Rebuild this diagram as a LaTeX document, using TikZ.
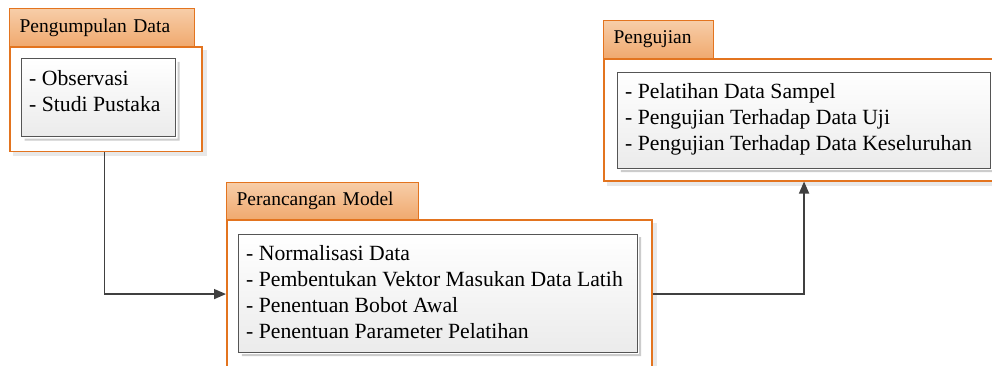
\documentclass[tikz,border=0pt]{standalone}
\usepackage{fontspec}
\setmainfont{Liberation Serif}
\usetikzlibrary{arrows.meta,backgrounds}
\definecolor{orangeline}{HTML}{E3741F}
\definecolor{tabtop}{HTML}{F7CDA8}
\definecolor{tabmid}{HTML}{EC9851}
\definecolor{tabbot}{HTML}{F0A96E}
\definecolor{innerline}{HTML}{555555}
\definecolor{innerbot}{HTML}{EBEBEB}
\definecolor{arrowcol}{HTML}{404040}
\tikzset{
  bodybox/.style={draw=orangeline, fill=white, line width=1.5pt, anchor=north west, inner sep=0pt},
  tabbox/.style={draw=orangeline, line width=1.2pt, top color=tabtop, middle color=tabmid, bottom color=tabbot,
    anchor=north west, inner xsep=10pt, inner ysep=0pt, align=left,
    font=\fontsize{19.5}{22}\selectfont},
  innerbox/.style={draw=innerline, line width=1pt, top color=white, bottom color=innerbot,
    anchor=north west, inner sep=0pt},
  bodyshadow/.style={fill=black!9},
  innershadow/.style={fill=black!20},
  itemtext/.style={anchor=base west, inner sep=0pt, font=\fontsize{21.7}{26}\selectfont},
  conn/.style={draw=arrowcol, line width=1.5pt, -{Triangle[length=12pt,width=10pt]}}
}
\begin{document}
\begin{tikzpicture}[x=1pt,y=-1pt]
\useasboundingbox (0,0) rectangle (992,365);
\clip (0,0) rectangle (992,365);
% Box 1
\node[bodybox, minimum width=192pt, minimum height=104.7pt] (b1) at (9,46) {};
\node[tabbox, text width=165pt, minimum height=38pt] (t1) at (9,8) {Pengumpulan Data};
\node[innerbox, minimum width=154pt, minimum height=77.7pt] (i1) at (21,58.3) {};
\node[itemtext] (l1a) at (29,85.7) {- Observasi};
\node[itemtext] (l1b) at (29,111.5) {- Studi Pustaka};
% Box 2
\node[bodybox, minimum width=425pt, minimum height=148.6pt] (b2) at (226,219) {};
\node[tabbox, text width=172pt, minimum height=37pt] (t2) at (226,182) {Perancangan Model};
\node[innerbox, minimum width=398.4pt, minimum height=118pt] (i2) at (238.3,233.7) {};
\node[itemtext] (l2a) at (246,260) {- Normalisasi Data};
\node[itemtext] (l2b) at (246,286) {- Pembentukan Vektor Masukan Data Latih};
\node[itemtext] (l2c) at (246,312) {- Penentuan Bobot Awal};
\node[itemtext] (l2d) at (246,338) {- Penentuan Parameter Pelatihan};
% Box 3
\node[bodybox, minimum width=400.6pt, minimum height=122pt] (b3) at (603,58) {};
\node[tabbox, text width=90pt, minimum height=38pt] (t3) at (603,20) {Pengujian};
\node[innerbox, minimum width=372.7pt, minimum height=95.4pt] (i3) at (617.3,72.3) {};
\node[itemtext] (l3a) at (625,98.3) {- Pelatihan Data Sampel};
\node[itemtext] (l3b) at (625,124.3) {- Pengujian Terhadap Data Uji};
\node[itemtext] (l3c) at (625,150.3) {- Pengujian Terhadap Data Keseluruhan};
% Shadows
\begin{pgfonlayer}{background}
\foreach \b in {b1,b2,b3}
  \fill[bodyshadow] ([shift={(4,4)}]\b.north west) rectangle ([shift={(4,4)}]\b.south east);
\end{pgfonlayer}
\foreach \b in {i1,i2,i3}
  \fill[innershadow] ([shift={(1.5,3.5)}]\b.north east) rectangle ([shift={(3.5,3.5)}]\b.south east)
                     ([shift={(3.5,1.5)}]\b.south west) rectangle ([shift={(1.5,3.5)}]\b.south east);
% Connectors
\draw[conn] ([xshift=-1.5pt]b1.south) |- (b2.west);
\draw[conn] (b2.east) -| (b3.south);
\end{tikzpicture}
\end{document}
